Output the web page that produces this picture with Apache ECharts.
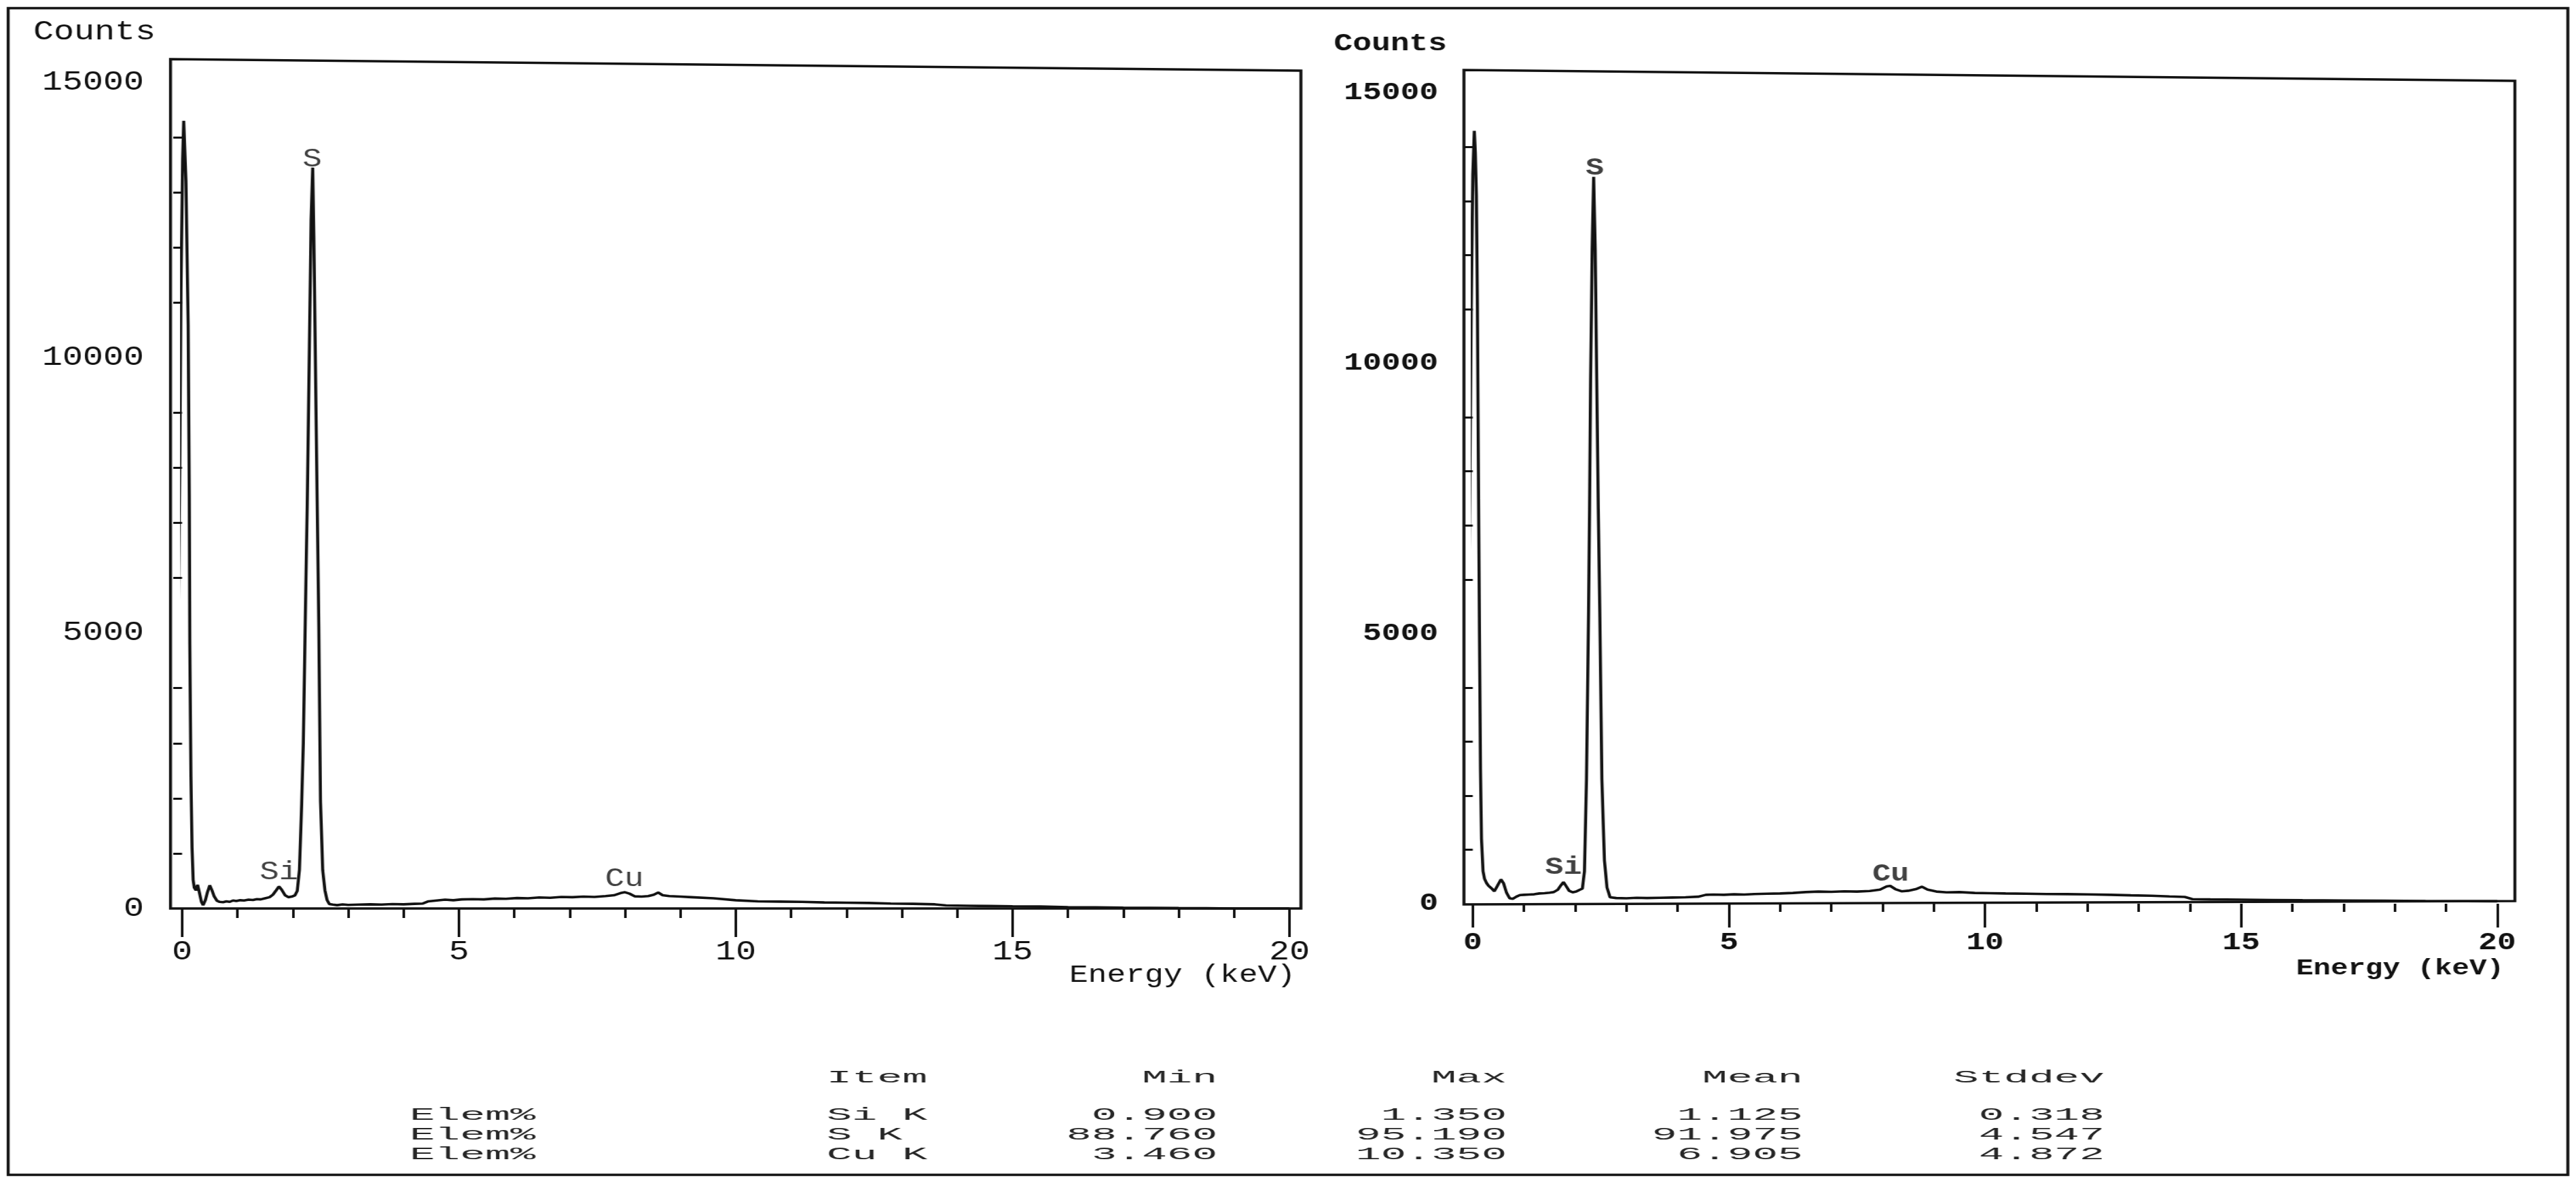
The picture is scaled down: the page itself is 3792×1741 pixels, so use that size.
<!DOCTYPE html>
<html>
<head>
<meta charset="utf-8">
<title>EDS spectra</title>
<script src="https://cdn.jsdelivr.net/npm/echarts@6.0.0/dist/echarts.min.js"></script>
<style>
html, body { margin: 0; padding: 0; background: #fff; overflow: hidden; }
/* the scan is stretched sideways, so the whole chart is drawn narrow and scaled */
#chart { width: 3033.6px; height: 1741px; transform: scaleX(1.25); transform-origin: 0 0; }
</style>
</head>
<body>
<div id="chart"></div>
<script>
// tick values (keV / counts)
const xTicks = [0, 5, 10, 15, 20];
const yTicks = [0, 5000, 10000, 15000];

// left spectrum
const leftEnergy = [
  -0.19, -0.16, -0.13, -0.10, -0.07, -0.04, -0.02, 0.01, 0.03, 0.05, 0.07, 0.09, 0.11, 0.13, 0.14, 0.16, 0.18, 0.20,
  0.22, 0.25, 0.28, 0.31, 0.35, 0.38, 0.42, 0.46, 0.50, 0.54, 0.58, 0.63, 0.68, 0.74, 0.80, 0.86, 0.92, 0.98, 1.05, 1.12,
  1.20, 1.28, 1.35, 1.42, 1.50, 1.58, 1.64, 1.70, 1.75, 1.80, 1.86, 1.92, 1.98, 2.04, 2.08,
  2.12, 2.16, 2.19, 2.22, 2.26, 2.30, 2.33, 2.36, 2.38, 2.41, 2.44, 2.47, 2.50, 2.54, 2.58, 2.62, 2.66,
  2.72, 2.80, 2.90, 3.00, 3.20, 3.40, 3.60, 3.80, 4.00, 4.20, 4.35, 4.45, 4.60, 4.75, 4.90, 5.05, 5.25, 5.45, 5.65, 5.85,
  6.05, 6.25, 6.45, 6.65, 6.85, 7.05, 7.25, 7.45, 7.65, 7.80, 7.92, 8.00, 8.08, 8.18, 8.30, 8.42, 8.52, 8.60, 8.68, 8.80,
  9.00, 9.20, 9.60, 10.00, 10.40, 10.80, 11.20, 11.60, 12.00, 12.40, 12.80, 13.20, 13.60, 13.80, 14.20, 14.60, 15.00, 15.50,
  16.00, 16.50, 17.00, 17.50, 18.00, 18.50, 19.00, 20.00
];
const leftCounts = [
  0, 60, 900, 2700, 5000, 8200, 11200, 13600, 14300, 14300, 13200, 11900, 10600, 7500, 4800, 2400, 1100, 520,
  380, 330, 430, 300, 120, 60, 150, 300, 420, 330, 220, 140, 120, 115, 130, 120, 145, 135, 150, 145,
  160, 155, 170, 165, 185, 205, 250, 330, 400, 340, 240, 205, 215, 240, 320,
  700, 1900, 3000, 4900, 7300, 10200, 12500, 13450, 12200, 9800, 7400, 5100, 1950, 700, 330, 150, 80,
  70, 60, 75, 65, 70, 75, 70, 80, 75, 85, 90, 130, 145, 160, 150, 165, 170, 165, 180, 175,
  190, 185, 200, 195, 210, 205, 215, 210, 225, 240, 280, 295, 270, 220, 215, 225, 250, 290, 240, 225,
  215, 205, 185, 150, 130, 125, 120, 110, 105, 100, 90, 85, 75, 55, 50, 45, 40, 35,
  25, 20, 15, 12, 8, 5, 0, 0
];

// right spectrum
const rightEnergy = [
  -0.17, -0.15, -0.12, -0.09, -0.06, -0.03, 0.00, 0.03, 0.05, 0.07, 0.09, 0.11, 0.13, 0.15, 0.17, 0.20, 0.23,
  0.27, 0.31, 0.36, 0.42, 0.48, 0.55, 0.60, 0.66, 0.72, 0.78, 0.85, 0.92, 1.00, 1.10, 1.20, 1.30, 1.40, 1.50, 1.58, 1.66,
  1.72, 1.77, 1.82, 1.88, 1.95, 2.02, 2.08, 2.14,
  2.18, 2.22, 2.26, 2.28, 2.30, 2.33, 2.36, 2.39, 2.42, 2.45, 2.48, 2.52, 2.57, 2.62, 2.68,
  2.80, 3.00, 3.20, 3.40, 3.65, 3.90, 4.15, 4.40, 4.55, 4.70, 4.90, 5.10, 5.30, 5.50, 5.75, 6.00, 6.25, 6.50, 6.75, 7.00,
  7.25, 7.50, 7.75, 7.95, 8.08, 8.15, 8.25, 8.37, 8.50, 8.65, 8.77, 8.88, 9.05, 9.25, 9.50, 9.80, 10.10, 10.40, 10.80, 11.20,
  11.60, 12.00, 12.45, 12.85, 13.25, 13.60, 13.90, 14.05, 14.40, 15.00, 15.60, 16.20, 17.00, 17.80, 18.60, 19.40, 20.00
];
const rightCounts = [
  0, 300, 2000, 4500, 7500, 11000, 13500, 14300, 13900, 13100, 11100, 8000, 5000, 2500, 1200, 600, 460,
  380, 330, 290, 230, 330, 450, 380, 200, 100, 90, 130, 160, 165, 170, 175, 190, 195, 205, 215, 260,
  340, 400, 330, 240, 210, 225, 255, 280,
  600, 2300, 5400, 7300, 9700, 12100, 13450, 12100, 9700, 7300, 5400, 2300, 800, 300, 120,
  105, 100, 110, 105, 110, 115, 120, 130, 165, 170, 165, 175, 170, 180, 185, 190, 200, 215, 225, 220,
  230, 225, 235, 260, 320, 330, 270, 230, 240, 270, 315, 260, 225, 210, 215, 200, 195, 190, 185, 180,
  178, 172, 165, 155, 148, 135, 125, 85, 80, 75, 70, 65, 60, 55, 50, 48, 45
];

// peak labels
const peakNames = ['Si', 'S', 'Cu'];
const leftPeakEnergy = [1.75, 2.35, 7.99];
const leftPeakCounts = [650, 13600, 535];
const rightPeakEnergy = [1.77, 2.38, 8.16];
const rightPeakCounts = [670, 13600, 540];

// quantification table
const tableHeader = ['Item', 'Min', 'Max', 'Mean', 'Stddev'];
const rowTag = 'Elem%';
const tableItems = ['Si K', 'S K', 'Cu K'];
const tableMin = ['0.900', '88.760', '3.460'];
const tableMax = ['1.350', '95.190', '10.350'];
const tableMean = ['1.125', '91.975', '6.905'];
const tableStddev = ['0.318', '4.547', '4.872'];

const SX = 1.25;
const cx = X => X / SX;
const mono = '"Courier New", "Liberation Mono", "DejaVu Sans Mono", monospace';
const ink = '#121212';

// panel geometry, in page pixels
const panels = [
  { gridLeft: 268, gridRight: 1898, gridTop: 121, axisY: 1337,
    frame: [[251, 1337], [251, 87], [1915, 104], [1915, 1337]],
    font: 40, nameFont: 37, peakFont: 38, weight: 'normal',
    xLabelMargin: 44, labelGap: 39, majorTick: 42, minorTick: 14, yTick: 13,
    countsY: 47, energyRight: 1907, energyY: 1435,
    energy: leftEnergy, counts: leftCounts, peakX: leftPeakEnergy, peakY: leftPeakCounts },
  { gridLeft: 2168, gridRight: 3676, gridTop: 137, axisY: 1330,
    frame: [[2155, 1331], [2155, 103], [3702, 119], [3702, 1326]],
    font: 37, nameFont: 34, peakFont: 36, weight: 'bold',
    xLabelMargin: 39, labelGap: 38, majorTick: 35, minorTick: 12, yTick: 14,
    countsY: 65, energyRight: 3686, energyY: 1425,
    energy: rightEnergy, counts: rightCounts, peakX: rightPeakEnergy, peakY: rightPeakCounts }
];

const grids = [], xAxes = [], yAxes = [], series = [], graphics = [];

panels.forEach((p, i) => {
  grids.push({
    left: cx(p.gridLeft), top: p.gridTop,
    width: cx(p.gridRight - p.gridLeft), height: p.axisY - p.gridTop,
    outerBoundsMode: 'none'
  });
  const textBase = { fontFamily: mono, fontWeight: p.weight, color: ink };
  xAxes.push({
    gridIndex: i, type: 'value',
    min: xTicks[0], max: xTicks[xTicks.length - 1], interval: xTicks[1] - xTicks[0],
    axisLine: { show: false },
    splitLine: { show: false },
    axisTick: { show: true, length: p.majorTick, lineStyle: { color: ink, width: 3 } },
    minorTick: { show: true, splitNumber: 5, length: p.minorTick, lineStyle: { color: ink, width: 3 } },
    minorSplitLine: { show: false },
    axisLabel: Object.assign({ margin: p.xLabelMargin, fontSize: p.font, lineHeight: p.font }, textBase),
    name: 'Energy (keV)', nameLocation: 'end', nameMoveOverlap: false,
    nameGap: cx(p.energyRight - p.gridRight),
    nameTextStyle: Object.assign({
      fontSize: p.nameFont, lineHeight: p.nameFont, align: 'right', verticalAlign: 'top',
      padding: [p.energyY - p.nameFont / 2 - p.axisY, 0, 0, 0]
    }, textBase)
  });
  yAxes.push({
    gridIndex: i, type: 'value',
    min: yTicks[0], max: yTicks[yTicks.length - 1], interval: yTicks[1] - yTicks[0],
    offset: cx(p.gridLeft - p.frame[0][0]),
    axisLine: { show: false },
    splitLine: { show: false },
    axisTick: { show: false },
    minorTick: { show: true, splitNumber: 5, length: cx(p.yTick), lineStyle: { color: ink, width: 3 } },
    minorSplitLine: { show: false },
    axisLabel: Object.assign({
      margin: cx(p.labelGap), fontSize: p.font, lineHeight: p.font,
      formatter: v => String(v)
    }, textBase),
    name: 'Counts', nameLocation: 'end', nameMoveOverlap: false,
    nameGap: p.gridTop - p.countsY,
    nameTextStyle: Object.assign({
      fontSize: p.font, lineHeight: p.font, align: 'right', verticalAlign: 'middle',
      padding: [0, cx(p.labelGap), 0, 0]
    }, textBase)
  });
  series.push({
    type: 'line', xAxisIndex: i, yAxisIndex: i,
    data: p.energy.map((e, k) => [e, p.counts[k]]),
    symbol: 'none', clip: false, silent: true,
    lineStyle: { color: ink, width: 3.6 }
  });
  series.push({
    type: 'scatter', xAxisIndex: i, yAxisIndex: i,
    data: peakNames.map((n, k) => ({ name: n, value: [p.peakX[k], p.peakY[k]] })),
    symbolSize: 1, silent: true,
    itemStyle: { color: 'rgba(0,0,0,0)' },
    label: Object.assign({ show: true, position: 'inside', formatter: '{b}', fontSize: p.peakFont }, textBase)
  });
  // plot frame (slightly skewed in the scan)
  graphics.push({
    type: 'polygon', z: 50, silent: true,
    shape: { points: p.frame.map(pt => [cx(pt[0]), pt[1]]) },
    style: { fill: 'none', stroke: ink, lineWidth: 3.5 }
  });
});

// outer border
graphics.push({
  type: 'rect', z: 50, silent: true,
  shape: { x: cx(12), y: 12, width: cx(3768), height: 1717 },
  style: { fill: 'none', stroke: ink, lineWidth: 3.5 }
});

// table text
function cell(str, X, Y, align) {
  return {
    type: 'text', z: 50, silent: true, x: cx(X), y: Y, scaleX: 1.9,
    style: { text: str, align: align, verticalAlign: 'middle', fontSize: 26, fontFamily: mono, fill: '#262626' }
  };
}
const colRight = [1792, 2218, 2654, 3098];
const headerY = 1586;
const rowY = [1641, 1670, 1699];
graphics.push(cell(tableHeader[0], 1217, headerY, 'left'));
tableHeader.slice(1).forEach((h, k) => graphics.push(cell(h, colRight[k], headerY, 'right')));
tableItems.forEach((item, r) => {
  graphics.push(cell(rowTag, 603, rowY[r], 'left'));
  graphics.push(cell(item, 1217, rowY[r], 'left'));
  [tableMin, tableMax, tableMean, tableStddev].forEach((col, k) => {
    graphics.push(cell(col[r], colRight[k], rowY[r], 'right'));
  });
});

const chart = echarts.init(document.getElementById('chart'));
chart.setOption({
  animation: false,
  backgroundColor: '#ffffff',
  grid: grids,
  xAxis: xAxes,
  yAxis: yAxes,
  series: series,
  graphic: graphics
});
</script>
</body>
</html>
